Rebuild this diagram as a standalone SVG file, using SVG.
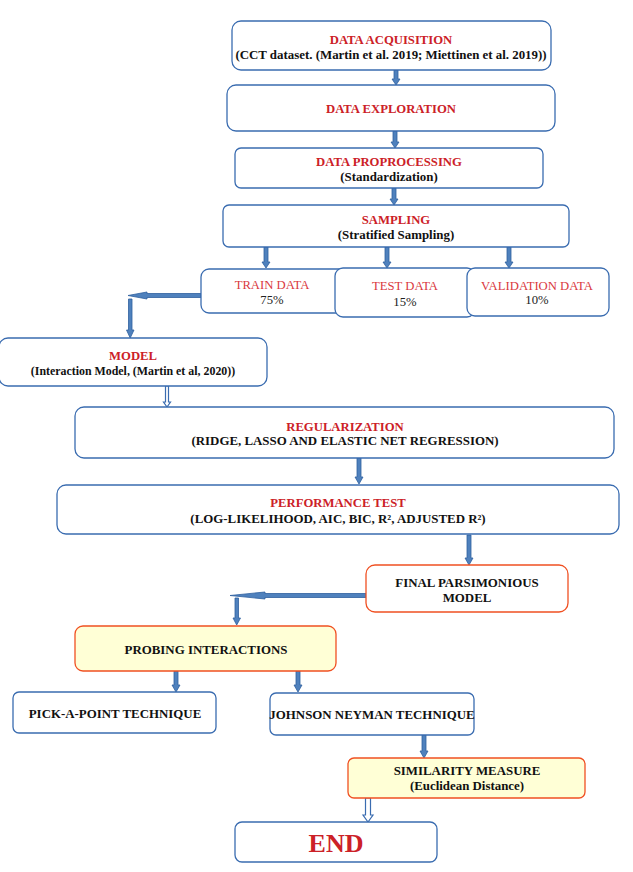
<svg xmlns="http://www.w3.org/2000/svg" width="633" height="872" viewBox="0 0 633 872">
<style>
.b{fill:#fff;stroke:#3a6cb0;stroke-width:1.3}
.o{fill:#fff;stroke:#f05022;stroke-width:1.3}
.y{fill:#ffffd6;stroke:#f05022;stroke-width:1.3}
text{font-family:"Liberation Serif","Times New Roman",serif;text-anchor:middle}
.r{fill:#cc2127;font-weight:bold;font-size:12.7px}
.k{fill:#111;font-weight:bold;font-size:12.9px}
.rn{fill:#d9383e;font-size:12.7px}
.kn{fill:#222;font-size:12.7px}
.a{fill:#4f81bd;stroke:#2f5f9e;stroke-width:0.8}
.h{fill:#fff;stroke:#3a6cb0;stroke-width:1.2}
</style>
<rect width="633" height="872" fill="#fff"/>
<g id="connectors">
<polygon class="a" points="394,70 398,70 398,79 400,79 396,85 392,79 394,79"/>
<polygon class="a" points="393,131 397,131 397,142 399,142 395,148 391,142 393,142"/>
<polygon class="a" points="392,188 396,188 396,199 398,199 394,205 390,199 392,199"/>
<polygon class="a" points="264,247 268,247 268,262 270,262 266,268 262,262 264,262"/>
<polygon class="a" points="385,247 389,247 389,262 391,262 387,268 383,262 385,262"/>
<polygon class="a" points="507,247 511,247 511,262 513,262 509,268 505,262 507,262"/>
<polygon class="a" points="201,293.5 201,297.5 147,297.5 147,299 128,295.5 147,292 147,293.5"/>
<polygon class="a" points="128.5,299 132,299 132,330 134,330 130.2,338 126.5,330 128.5,330"/>
<polygon class="h" points="165.5,386 168.5,386 168.5,402 170.5,402 167,407 163.5,402 165.5,402"/>
<polygon class="a" points="357,458 361,458 361,477 363,477 359,484 355,477 357,477"/>
<polygon class="a" points="467,535 471,535 471,558 473,558 469,565 465,558 467,558"/>
<polygon class="a" points="366,593.5 366,597.5 265,597.5 265,599 230,595.5 265,592 265,593.5"/>
<polygon class="a" points="235,598 238.5,598 238.5,618 240.5,618 236.7,625 233,618 235,618"/>
<polygon class="a" points="174,671 178,671 178,685 180,685 176,692 172,685 174,685"/>
<polygon class="a" points="296,671 300,671 300,685 302,685 298,692 294,685 296,685"/>
<polygon class="a" points="422,735 426,735 426,751 428,751 424,758 420,751 422,751"/>
<polygon class="h" points="365.5,798 370.5,798 370.5,815 373,815 368,822 363,815 365.5,815"/>
</g>
<g id="data-acquisition">
<rect class="b" x="232" y="21" width="319" height="49" rx="9"/>
<text class="r" x="391" y="44">DATA ACQUISITION</text>
<text class="k" x="391" y="59">(CCT dataset. (Martin et al. 2019; Miettinen et al. 2019))</text>
</g>
<g id="data-exploration">
<rect class="b" x="227" y="85" width="328" height="46" rx="9"/>
<text class="r" x="391" y="113">DATA EXPLORATION</text>
</g>
<g id="data-proprocessing">
<rect class="b" x="235" y="148" width="308" height="40" rx="6"/>
<text class="r" x="389" y="166">DATA PROPROCESSING</text>
<text class="k" x="389" y="181">(Standardization)</text>
</g>
<g id="sampling">
<rect class="b" x="223" y="205" width="346" height="42" rx="6"/>
<text class="r" x="396" y="224">SAMPLING</text>
<text class="k" x="396" y="239">(Stratified Sampling)</text>
</g>
<g id="train-data">
<rect class="b" x="201" y="269" width="148" height="44" rx="8"/>
<text class="rn" x="272" y="289">TRAIN DATA</text>
<text class="kn" x="272" y="304">75%</text>
</g>
<g id="test-data">
<rect class="b" x="335" y="268" width="140" height="49" rx="8"/>
<text class="rn" x="405" y="290">TEST DATA</text>
<text class="kn" x="405" y="306">15%</text>
</g>
<g id="validation-data">
<rect class="b" x="467" y="268" width="142" height="48" rx="8"/>
<text class="rn" x="537" y="290">VALIDATION DATA</text>
<text class="kn" x="537" y="304">10%</text>
</g>
<g id="model">
<rect class="b" x="-1" y="338" width="268" height="48" rx="9"/>
<text class="r" x="133" y="360">MODEL</text>
<text class="k" x="133" y="375" style="font-size:11.9px">(Interaction Model, (Martin et al, 2020))</text>
</g>
<g id="regularization">
<rect class="b" x="75" y="407" width="539" height="51" rx="9"/>
<text class="r" x="345" y="431">REGULARIZATION</text>
<text class="k" x="345" y="445">(RIDGE, LASSO AND ELASTIC NET REGRESSION)</text>
</g>
<g id="performance-test">
<rect class="b" x="57" y="485" width="562" height="49" rx="9"/>
<text class="r" x="338" y="507">PERFORMANCE TEST</text>
<text class="k" x="338" y="523">(LOG-LIKELIHOOD, AIC, BIC, R², ADJUSTED R²)</text>
</g>
<g id="final-parsimonious-model">
<rect class="o" x="366" y="565" width="202" height="47" rx="9"/>
<text class="k" x="467" y="587">FINAL PARSIMONIOUS</text>
<text class="k" x="467" y="602">MODEL</text>
</g>
<g id="probing-interactions">
<rect class="y" x="75" y="626" width="261" height="45" rx="8"/>
<text class="k" x="206" y="654">PROBING INTERACTIONS</text>
</g>
<g id="pick-a-point">
<rect class="b" x="13" y="692" width="203" height="41" rx="6"/>
<text class="k" x="115" y="718">PICK-A-POINT TECHNIQUE</text>
</g>
<g id="johnson-neyman">
<rect class="b" x="270" y="693" width="204" height="42" rx="6"/>
<text class="k" x="372" y="719">JOHNSON NEYMAN TECHNIQUE</text>
</g>
<g id="similarity-measure">
<rect class="y" x="348" y="758" width="237" height="40" rx="6"/>
<text class="k" x="467" y="775">SIMILARITY MEASURE</text>
<text class="k" x="467" y="790">(Euclidean Distance)</text>
</g>
<g id="end">
<rect class="b" x="235" y="822" width="202" height="40" rx="7"/>
<text x="336" y="852" style="fill:#cc2127;font-weight:bold;font-size:26px">END</text>
</g>
</svg>
